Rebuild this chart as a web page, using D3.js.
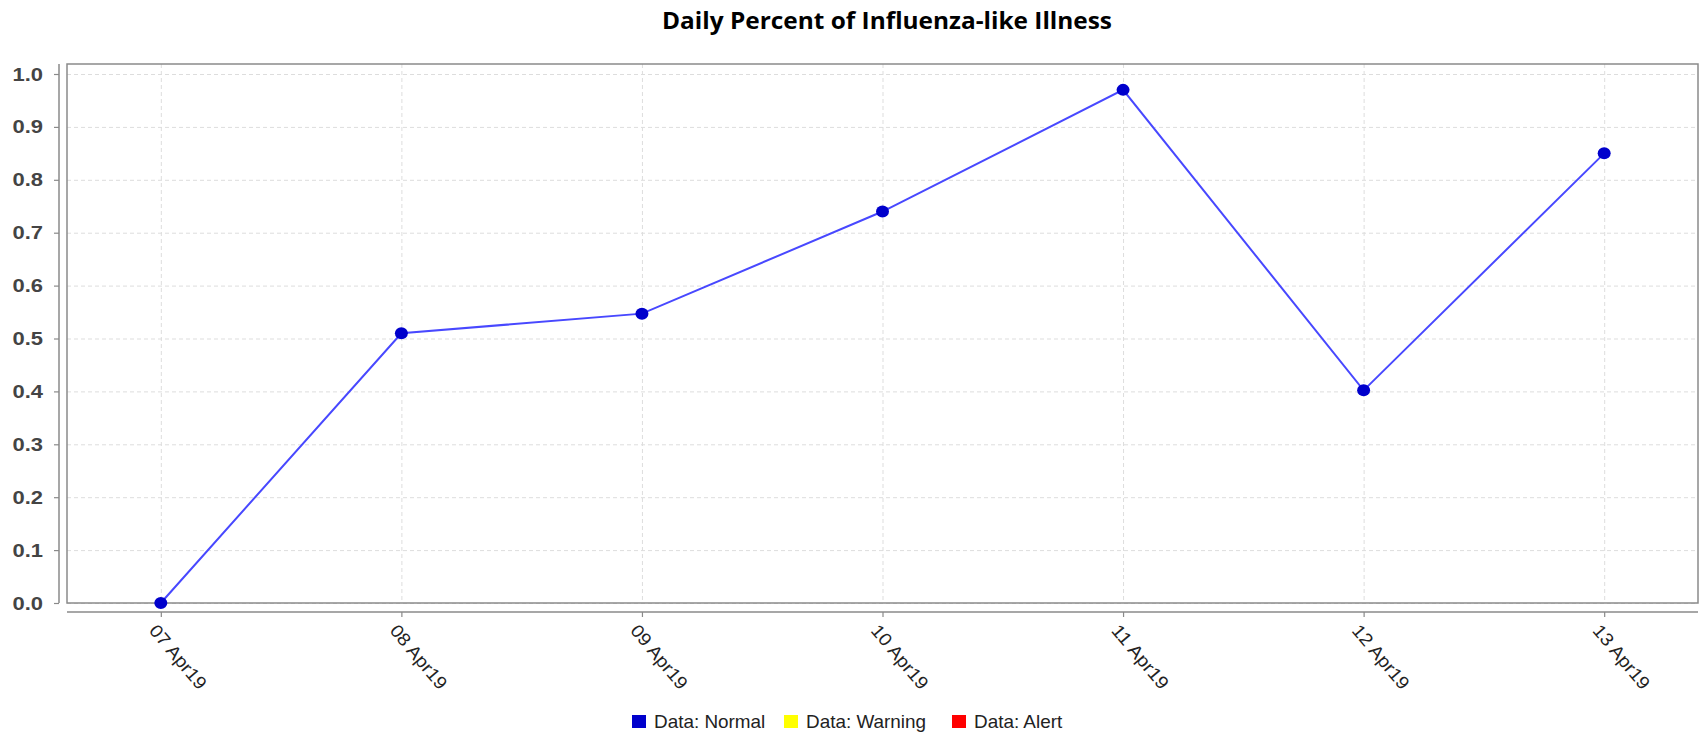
<!DOCTYPE html>
<html>
<head>
<meta charset="utf-8">
<script src="https://cdn.jsdelivr.net/npm/d3@7"></script>
<style>
  body { margin: 0; background: #fff; }
  svg { display: block; }
</style>
</head>
<body>
<div id="chart"></div>
<script>
// chart data
const categories = ["07 Apr19", "08 Apr19", "09 Apr19", "10 Apr19", "11 Apr19", "12 Apr19", "13 Apr19"];
const values = [0.0, 0.51, 0.547, 0.74, 0.97, 0.402, 0.85];
const yTicks = [0.0, 0.1, 0.2, 0.3, 0.4, 0.5, 0.6, 0.7, 0.8, 0.9, 1.0];
const legendLabels = ["Data: Normal", "Data: Warning", "Data: Alert"];
const legendColors = ["#0000cc", "#ffff00", "#ff0000"];

const width = 1699, height = 734;
const plot = { left: 67, right: 1698, top: 64, bottom: 603 };

const svg = d3.select("#chart")
    .append("svg")
    .attr("width", width)
    .attr("height", height);

// title
svg.append("text")
    .attr("x", 887)
    .attr("y", 29)
    .attr("text-anchor", "middle")
    .attr("textLength", 450)
    .attr("lengthAdjust", "spacingAndGlyphs")
    .style("font-family", "'Open Sans', sans-serif")
    .style("font-weight", "bold")
    .style("font-size", "24px")
    .attr("fill", "#000")
    .text("Daily Percent of Influenza-like Illness");

const x = d3.scalePoint()
    .domain(categories)
    .range([plot.left, plot.right])
    .padding(0.39);

const y = d3.scaleLinear()
    .domain([0, 1.0])
    .range([plot.bottom, 74]);

// gridlines
const grid = svg.append("g")
    .attr("stroke", "#dddddd")
    .attr("stroke-width", 1)
    .attr("stroke-dasharray", "4,3");

grid.selectAll("line.h")
    .data(yTicks)
    .join("line")
    .attr("class", "h")
    .attr("x1", plot.left)
    .attr("x2", plot.right)
    .attr("y1", d => y(d) + 0.5)
    .attr("y2", d => y(d) + 0.5);

grid.selectAll("line.v")
    .data(categories)
    .join("line")
    .attr("class", "v")
    .attr("x1", d => x(d) + 0.5)
    .attr("x2", d => x(d) + 0.5)
    .attr("y1", plot.top)
    .attr("y2", plot.bottom);

// plot frame
svg.append("rect")
    .attr("x", plot.left)
    .attr("y", plot.top)
    .attr("width", plot.right - plot.left)
    .attr("height", plot.bottom - plot.top)
    .attr("fill", "none")
    .attr("stroke", "#8a8a8a")
    .attr("stroke-width", 1.5);

// y axis
const yAxis = svg.append("g")
    .attr("transform", "translate(59,0)")
    .call(d3.axisLeft(y).tickValues(yTicks).tickFormat(d3.format(".1f")).tickSize(5).tickSizeOuter(0));

yAxis.select(".domain")
    .attr("d", `M0,${plot.top}V${plot.bottom}`)
    .attr("stroke", "#8a8a8a")
    .attr("stroke-width", 1.5);
yAxis.selectAll(".tick line").attr("stroke", "#8a8a8a").attr("stroke-width", 1.2);
yAxis.selectAll(".tick text")
    .attr("x", 0)
    .attr("dy", null)
    .attr("transform", "translate(-16,6) scale(1.22,1)")
    .attr("text-anchor", "end")
    .style("font-family", "'Liberation Sans', Arial, sans-serif")
    .style("font-weight", "bold")
    .style("font-size", "18px")
    .attr("fill", "#444");

// x axis
const xAxis = svg.append("g")
    .attr("transform", "translate(0,612)")
    .call(d3.axisBottom(x).tickSize(5).tickSizeOuter(0));

xAxis.select(".domain")
    .attr("d", `M${plot.left},0H${plot.right}`)
    .attr("stroke", "#8a8a8a")
    .attr("stroke-width", 1.5);
xAxis.selectAll(".tick line").attr("stroke", "#8a8a8a").attr("stroke-width", 1.2);
xAxis.selectAll(".tick text")
    .attr("x", 0)
    .attr("y", 0)
    .attr("dy", null)
    .attr("transform", "translate(-13,19) rotate(50)")
    .attr("text-anchor", "start")
    .attr("textLength", 78)
    .attr("lengthAdjust", "spacingAndGlyphs")
    .style("font-family", "'Liberation Sans', Arial, sans-serif")
    .style("font-size", "18px")
    .attr("fill", "#222");

// line + markers
const line = d3.line()
    .x((d, i) => x(categories[i]))
    .y(d => y(d));

svg.append("path")
    .datum(values)
    .attr("fill", "none")
    .attr("stroke", "#4848ff")
    .attr("stroke-width", 2)
    .attr("d", line);

svg.append("g")
    .selectAll("ellipse")
    .data(values)
    .join("ellipse")
    .attr("cx", (d, i) => x(categories[i]))
    .attr("cy", d => y(d))
    .attr("rx", 6.5)
    .attr("ry", 6)
    .attr("fill", "#0000cc");

// legend
const legendX = [632, 784, 952];
const legend = svg.append("g");
legend.selectAll("rect")
    .data(legendLabels)
    .join("rect")
    .attr("x", (d, i) => legendX[i])
    .attr("y", 715)
    .attr("width", 14)
    .attr("height", 13)
    .attr("fill", (d, i) => legendColors[i]);

legend.selectAll("text")
    .data(legendLabels)
    .join("text")
    .attr("transform", (d, i) => `translate(${legendX[i] + 22},728) scale(1.08,1)`)
    .style("font-family", "'Liberation Sans', Arial, sans-serif")
    .style("font-size", "17.5px")
    .attr("fill", "#222")
    .text(d => d);
</script>
</body>
</html>
